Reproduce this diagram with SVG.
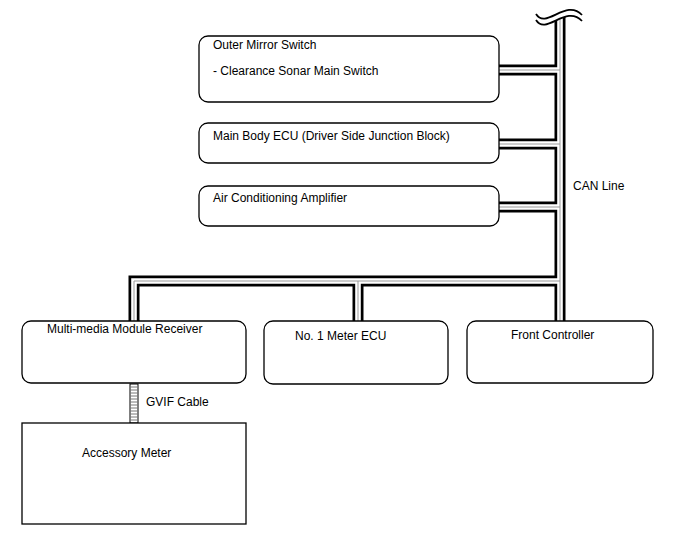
<svg xmlns="http://www.w3.org/2000/svg" width="688" height="560" viewBox="0 0 688 560">
<style>
.box{fill:#fff;stroke:#000;stroke-width:1.3}
.cb{fill:none;stroke:#000;stroke-width:11;stroke-linejoin:miter}
.cw{fill:none;stroke:#fff;stroke-width:5.6;stroke-linejoin:miter}
.cg{fill:none;stroke:#999;stroke-width:1}
text{font-family:"Liberation Sans",Arial,sans-serif;font-size:12px;fill:#000}
</style>
<defs>
<path id="c1" d="M560,15V321"/>
<path id="c2" d="M499,70H560"/>
<path id="c3" d="M499,144H560"/>
<path id="c4" d="M499,207H560"/>
<path id="c5" d="M134,321V281H560"/>
<path id="c6" d="M358,281V321"/>
</defs>
<rect width="688" height="560" fill="#fff"/>
<g id="connectors">
<g class="cb"><use href="#c1"/><use href="#c2"/><use href="#c3"/><use href="#c4"/><use href="#c5"/><use href="#c6"/></g>
<g class="cw"><use href="#c1"/><use href="#c2"/><use href="#c3"/><use href="#c4"/><use href="#c5"/><use href="#c6"/></g>
<g class="cg"><use href="#c1"/><use href="#c2"/><use href="#c3"/><use href="#c4"/><use href="#c5"/><use href="#c6"/></g>
<path d="M536,20C546,36 566,4 582,21V0H536Z" fill="#fff"/>
<path d="M536,14C546,30 566,-2 582,15M536,20C546,36 566,4 582,21" fill="none" stroke="#000" stroke-width="1.8"/>
<g id="gvif">
<rect x="130" y="384" width="8" height="39" fill="#fff" stroke="#000" stroke-width="1"/>
<path d="M130,387H138M130,390H138M130,393H138M130,396H138M130,399H138M130,402H138M130,405H138M130,408H138M130,411H138M130,414H138M130,417H138M130,420H138" stroke="#777" stroke-width="1"/>
</g>
<text x="573" y="190">CAN Line</text>
<text x="146" y="406">GVIF Cable</text>
</g>
<g id="outer-mirror-switch">
<rect class="box" x="199" y="36" width="300" height="66" rx="9"/>
<text x="213" y="49">Outer Mirror Switch</text>
<text x="213" y="75">- Clearance Sonar Main Switch</text>
</g>
<g id="main-body-ecu">
<rect class="box" x="199" y="123" width="300" height="40" rx="9"/>
<text x="213" y="140">Main Body ECU (Driver Side Junction Block)</text>
</g>
<g id="air-conditioning-amplifier">
<rect class="box" x="199" y="186" width="300" height="40" rx="9"/>
<text x="213" y="202">Air Conditioning Amplifier</text>
</g>
<g id="multi-media-module-receiver">
<rect class="box" x="22" y="321" width="224" height="62" rx="9"/>
<text x="47" y="333">Multi-media Module Receiver</text>
</g>
<g id="no1-meter-ecu">
<rect class="box" x="264" y="321" width="184" height="63" rx="9"/>
<text x="295" y="340">No. 1 Meter ECU</text>
</g>
<g id="front-controller">
<rect class="box" x="467" y="321" width="186" height="62" rx="9"/>
<text x="511" y="339">Front Controller</text>
</g>
<g id="accessory-meter">
<rect class="box" x="22" y="423" width="224" height="101"/>
<text x="82" y="457">Accessory Meter</text>
</g>
</svg>
